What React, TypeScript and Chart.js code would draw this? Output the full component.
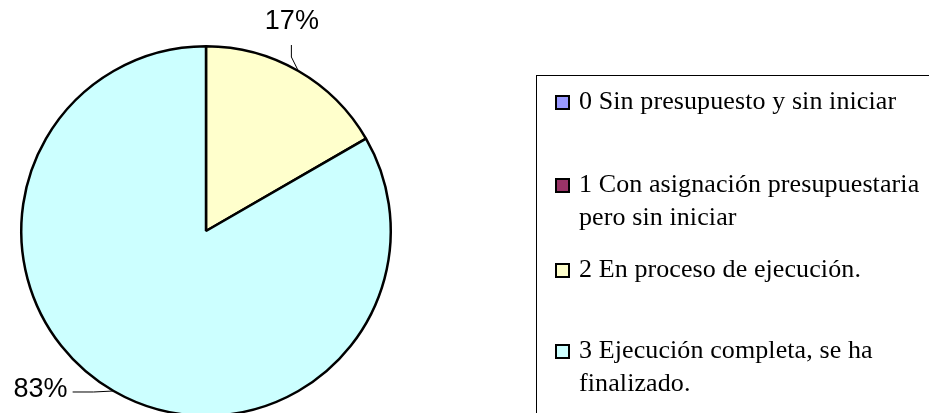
import React, { useEffect, useRef } from "react";
import { Chart, registerables } from "chart.js";

Chart.register(...registerables);

const categories = [
  "0 Sin presupuesto y sin iniciar",
  "1 Con asignación presupuestaria pero sin iniciar",
  "2 En proceso de ejecución.",
  "3 Ejecución completa, se ha finalizado.",
];
const values = [0, 0, 1, 5];
const colors = ["#9999FF", "#993366", "#FFFFCC", "#CCFFFF"];

// legend text baselines (px from top of page)
const legendBaselines = [109, 192, 277, 358];

const leaderStyles: Record<number, { pts: [number, number][]; text: [number, number]; align: CanvasTextAlign }> = {
  2: { pts: [[-7, -14], [-7, -26]], text: [-6.5, -49], align: "center" },
  3: { pts: [[-20, 1], [-41, 1]], text: [-46, -1], align: "right" },
};

const labelPlugin = {
  id: "pctLabels",
  afterDraw(chart: any) {
    const ctx = chart.ctx;
    const meta = chart.getDatasetMeta(0);
    const data = chart.data.datasets[0].data as number[];
    const total = data.reduce((a, b) => a + b, 0);
    ctx.save();
    meta.data.forEach((arc: any, i: number) => {
      const v = data[i];
      if (!v) return;
      const st = leaderStyles[i];
      if (!st) return;
      const { x, y, startAngle, endAngle, outerRadius } = arc.getProps(
        ["x", "y", "startAngle", "endAngle", "outerRadius"],
        true
      );
      const mid = (startAngle + endAngle) / 2;
      const ex = x + Math.cos(mid) * outerRadius;
      const ey = y + Math.sin(mid) * outerRadius;
      ctx.strokeStyle = "#000";
      ctx.lineWidth = 1;
      ctx.beginPath();
      ctx.moveTo(ex, ey);
      st.pts.forEach(([dx, dy]) => ctx.lineTo(ex + dx, ey + dy));
      ctx.stroke();
      ctx.fillStyle = "#000";
      ctx.font = '27px "Liberation Sans", Arial, sans-serif';
      ctx.textAlign = st.align;
      ctx.textBaseline = "middle";
      ctx.fillText(Math.round((v / total) * 100) + "%", ex + st.text[0], ey + st.text[1]);
    });
    ctx.restore();
  },
};

export default function App() {
  const ref = useRef<HTMLCanvasElement | null>(null);
  useEffect(() => {
    if (!ref.current) return;
    const chart = new Chart(ref.current, {
      type: "pie",
      data: {
        labels: categories,
        datasets: [
          {
            data: values,
            backgroundColor: colors,
            borderColor: "#000",
            borderWidth: 2.5,
          },
        ],
      },
      options: {
        responsive: false,
        animation: false,
        layout: { padding: { left: 20, top: 45, right: 537, bottom: 23 } },
        plugins: {
          legend: { display: false },
          tooltip: { enabled: false },
        },
      },
      plugins: [labelPlugin],
    });
    return () => chart.destroy();
  }, []);

  const fontSize = 26;
  const lineH = 33;
  const baseOff = (lineH - fontSize * 1.107) / 2 + fontSize * 0.891;

  return (
    <div
      style={{
        position: "fixed",
        left: 0,
        top: 0,
        width: 929,
        height: 413,
        overflow: "hidden",
        background: "#fff",
      }}
    >
      <canvas ref={ref} width={929} height={440} style={{ position: "absolute", left: 0, top: 0 }} />
      <div
        style={{
          position: "absolute",
          left: 536,
          top: 75,
          width: 500,
          height: 400,
          borderTop: "1px solid #000",
          borderLeft: "1px solid #000",
          boxSizing: "border-box",
        }}
      />
      {categories.map((c, i) => (
        <React.Fragment key={i}>
          <div
            style={{
              position: "absolute",
              left: 555,
              top: legendBaselines[i] - 7 - 7.5,
              width: 15,
              height: 15,
              boxSizing: "border-box",
              border: "2px solid #000",
              background: colors[i],
            }}
          />
          <div
            style={{
              position: "absolute",
              left: 579,
              top: legendBaselines[i] - baseOff,
              width: 350,
              fontFamily: '"Liberation Serif", "Times New Roman", serif',
              fontSize,
              lineHeight: lineH + "px",
              letterSpacing: "0.1px",
              color: "#000",
              whiteSpace: "normal",
            }}
          >
            {c}
          </div>
        </React.Fragment>
      ))}
    </div>
  );
}
